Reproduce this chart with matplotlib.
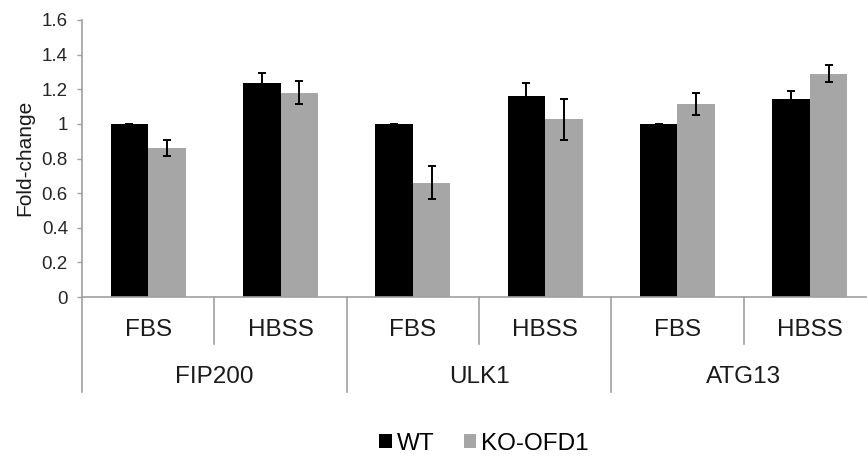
import matplotlib
matplotlib.use('Agg')
import matplotlib.pyplot as plt
import numpy as np

plt.rcParams['font.family'] = ['Liberation Sans', 'DejaVu Sans']

# Данные
groups = ['FIP200', 'ULK1', 'ATG13']
conditions = ['FBS', 'HBSS', 'FBS', 'HBSS', 'FBS', 'HBSS']
wt = [1.0, 1.236, 1.0, 1.163, 1.0, 1.144]
wt_err = [0.0, 0.056, 0.0, 0.075, 0.0, 0.048]
ko = [0.862, 1.180, 0.660, 1.026, 1.117, 1.290]
ko_err = [0.045, 0.065, 0.095, 0.120, 0.064, 0.051]
series_names = ['WT', 'KO-OFD1']

W, H = 867, 457
fig = plt.figure(figsize=(W / 100, H / 100), dpi=100)
# оси в пикселях: x от 82 до 876, y от 20 до 297
ax = fig.add_axes([82 / W, 1 - 297 / H, (876 - 82) / W, 277 / H])

x = np.arange(len(conditions)) + 0.5
width = 0.283
gray = '#A6A6A6'
axis_gray = '#A0A0A0'

ax.bar(x - width / 2, wt, width, color='black', label=series_names[0])
ax.bar(x + width / 2, ko, width, color=gray, label=series_names[1])
ax.errorbar(x - width / 2, wt, yerr=wt_err, fmt='none', ecolor='black',
            elinewidth=1.4, capsize=3.2, capthick=1.4)
ax.errorbar(x + width / 2, ko, yerr=ko_err, fmt='none', ecolor='black',
            elinewidth=1.4, capsize=3.2, capthick=1.4)

ax.set_xlim(0, len(conditions))
ax.set_ylim(0, 1.6)
ax.set_yticks(np.arange(0, 1.61, 0.2))
ax.set_yticklabels(['0', '0.2', '0.4', '0.6', '0.8', '1', '1.2', '1.4', '1.6'])
ax.tick_params(axis='y', length=3.6, width=1, color=axis_gray, pad=6.5,
               labelsize=13.5, labelcolor='#262626')
ax.set_xticks([])
for s in ['top', 'right']:
    ax.spines[s].set_visible(False)
for s in ['left', 'bottom']:
    ax.spines[s].set_color(axis_gray)
    ax.spines[s].set_linewidth(1.2)

# подписи категорий и разделители под осью
tr = ax.get_xaxis_transform()
for i, c in enumerate(conditions):
    ax.text(x[i], -0.119, c, transform=tr, ha='center', va='center',
            fontsize=17.5, color='#1a1a1a')
for g, name in enumerate(groups):
    ax.text(2 * g + 1, -0.289, name, transform=tr, ha='center', va='center',
            fontsize=17.5, color='#1a1a1a')
for b in range(len(conditions) + 1):
    low = -0.343 if b % 2 == 0 else -0.170
    ax.plot([b, b], [0, low], transform=tr, color=axis_gray, lw=1.2,
            clip_on=False)

fig.text(25 / W, 1 - 158 / H, 'Fold-change', rotation=90, ha='center',
         va='center', fontsize=15, color='#1a1a1a')

leg = fig.legend(loc='center', bbox_to_anchor=(484 / W, 1 - 444 / H),
                 ncol=2, frameon=False, fontsize=17.5, handlelength=0.52,
                 handleheight=0.52, handletextpad=0.2, columnspacing=1.2,
                 borderaxespad=0, borderpad=0)

fig.savefig('out.png', dpi=100)
